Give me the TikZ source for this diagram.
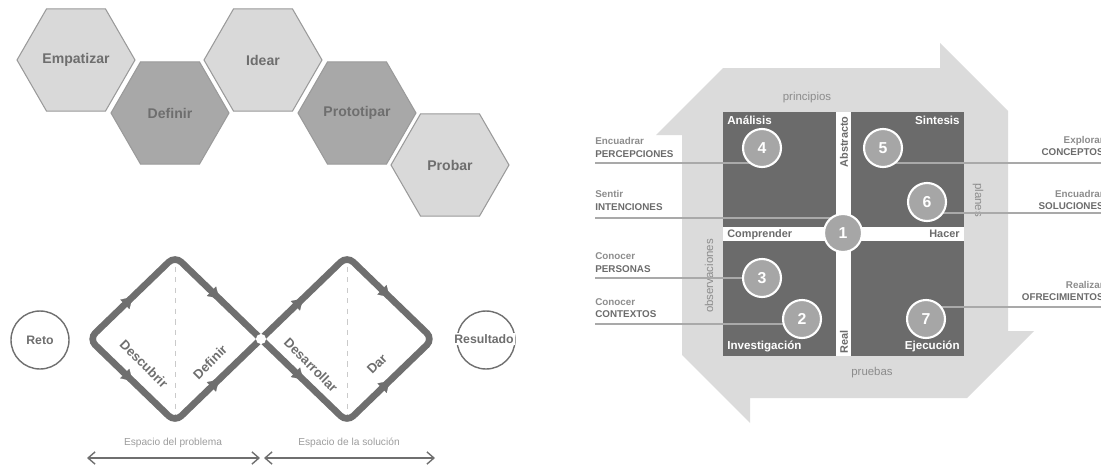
\documentclass[tikz,border=0pt]{standalone}
\usepackage{fontspec}
\setmainfont{Liberation Sans}
\usepackage{tikz}
\usetikzlibrary{shapes.geometric,arrows.meta,decorations.markings}
\definecolor{hexlight}{HTML}{D9D9D9}
\definecolor{hexdark}{HTML}{A8A8A8}
\definecolor{hexline}{HTML}{9A9A9A}
\definecolor{txtgray}{HTML}{6E6E6E}
\definecolor{flowgray}{HTML}{6F6F6F}
\definecolor{dashgray}{HTML}{CACACA}
\definecolor{softgray}{HTML}{9C9C9C}
\definecolor{bandgray}{HTML}{DBDBDB}
\definecolor{quadgray}{HTML}{6B6B6B}
\definecolor{numgray}{HTML}{A6A6A6}
\definecolor{leadgray}{HTML}{A9A9A9}
\definecolor{labgray}{HTML}{8C8C8C}
\newcommand{\fsz}[1]{\fontsize{#1}{#1}\selectfont}

\begin{document}
\begin{tikzpicture}[x=0.02cm, y=-0.02cm,
    >={Triangle[length=6pt,width=7.5pt,line width=0.1pt]},
    hexa/.style={regular polygon, regular polygon sides=6, minimum size=2.36cm, inner sep=0pt,
        draw=hexline, line width=0.6pt, text=txtgray, font=\fsz{8}\bfseries},
    ring/.style={circle, draw=flowgray, line width=0.8pt, minimum size=1.16cm, inner sep=0pt},
    phase/.style={text=txtgray, font=\fsz{7.5}\bfseries, inner sep=0pt},
    guide/.style={draw=dashgray, line width=0.5pt, dashed},
    loopa/.style={color=flowgray, line width=3.8pt, rounded corners=5pt, postaction={decorate},
        decoration={markings,
            mark=at position 0.125 with {\arrowreversed{>}},
            mark=at position 0.375 with {\arrowreversed{>}},
            mark=at position 0.625 with {\arrow{>}},
            mark=at position 0.875 with {\arrow{>}}}},
    loopb/.style={color=flowgray, line width=3.8pt, rounded corners=5pt, postaction={decorate},
        decoration={markings,
            mark=at position 0.125 with {\arrow{>}},
            mark=at position 0.375 with {\arrow{>}},
            mark=at position 0.625 with {\arrowreversed{>}},
            mark=at position 0.875 with {\arrowreversed{>}}}},
    space/.style={text=softgray, font=\fsz{5.8}, inner sep=1pt},
    span/.style={draw=flowgray, line width=0.8pt, {Straight Barb[length=4pt,width=7pt]}-{Straight Barb[length=4pt,width=7pt]}},
    quadlabel/.style={text=white, font=\fsz{6.6}\bfseries, inner sep=0pt},
    axislabel/.style={text=quadgray, font=\fsz{6.2}\bfseries, inner sep=0pt},
    sidelabel/.style={text=labgray, font=\fsz{6.5}, inner sep=0pt},
    verb/.style={text=labgray, font=\fsz{5.6}\bfseries, inner sep=0pt},
    noun/.style={text=quadgray, font=\fsz{5.6}\bfseries, inner sep=0pt},
    leader/.style={draw=leadgray, line width=0.7pt},
    num/.style={circle, fill=numgray, draw=white, line width=1.2pt, minimum size=0.76cm, inner sep=0pt,
        text=white, font=\fsz{9}\bfseries}]
    \useasboundingbox (0,0) rectangle (1101,470);

    % Hexagon phases
    \foreach \hname/\hx/\hy/\hshade/\htext in {emp/76/60/hexlight/Empatizar, def/170/113/hexdark/Definir,
        ide/263/60/hexlight/Idear, pro/357/113/hexdark/Prototipar, pru/450/165/hexlight/Probar}
        \node[hexa, fill=\hshade] (\hname) at (\hx,\hy) {\htext};

    % Double diamond
    \coordinate (L1) at (89,339);
    \coordinate (T1) at (175,256);
    \coordinate (M) at (261,339);
    \coordinate (B1) at (175,422);
    \coordinate (T2) at (347,256);
    \coordinate (R2) at (433,339);
    \coordinate (B2) at (347,422);
    \draw[guide] (T1) -- (B1);
    \draw[guide] (T2) -- (B2);
    \draw[loopa] (M) -- (T1) -- (L1) -- (B1) -- (M);
    \draw[loopb] (M) -- (T2) -- (R2) -- (B2) -- (M);
    \fill[white] (M) circle[radius=2.9pt];

    \node[phase, rotate=-45] (descubrir) at (144,364) {Descubrir};
    \node[phase, rotate=45] (definir) at (210,362) {Definir};
    \node[phase, rotate=-45] (desarrollar) at (311,365) {Desarrollar};
    \node[phase, rotate=45] (dar) at (377,364) {Dar};

    % Start and end
    \node[ring, phase, font=\fsz{7}\bfseries] (reto) at (40,340) {Reto};
    \node[ring] (res) at (486,340) {};
    \node[phase, font=\fsz{7}\bfseries, fill=white, inner sep=1pt] (restxt) at (484,339) {Resultado};

    % Problem and solution spaces
    \node[space] (prob) at (173,443) {Espacio del problema};
    \node[space] (sol) at (349,443) {Espacio de la soluci\'on};
    \coordinate (s0) at (87,458);
    \coordinate (s1) at (260,458);
    \coordinate (s1b) at (264,458);
    \coordinate (s2) at (435,458);
    \draw[span] (s0) -- (s1);
    \draw[span] (s1b) -- (s2);

    % Cycle band
    \fill[bandgray] (723,68) -- (940,68) -- (940,43) -- (1008,111) -- (1008,331) -- (1034,331)
        -- (967,398) -- (750,398) -- (750,423) -- (682,355) -- (682,135) -- (656,135) -- cycle;
    \fill[white] (723,112) rectangle (964,356);
    \foreach \qx/\qy in {723/112, 851/112, 723/241, 851/241}
        \fill[quadgray] (\qx,\qy) rectangle ++(113,115);

    % Quadrant labels
    \node[quadlabel, anchor=base west] (ana) at (727,124) {An\'alisis};
    \node[quadlabel, anchor=base east] (sin) at (960,124) {Sintesis};
    \node[quadlabel, anchor=base west] (inv) at (727,349) {Investigaci\'on};
    \node[quadlabel, anchor=base east] (eje) at (960,349) {Ejecuci\'on};
    \node[axislabel, anchor=base west] (comp) at (727,237) {Comprender};
    \node[axislabel, anchor=base east] (hac) at (960,237) {Hacer};
    \node[axislabel, rotate=90] (abs) at (844,142) {Abstracto};
    \node[axislabel, rotate=90] (real) at (844,342) {Real};

    % Band labels
    \node[sidelabel] (prin) at (807,98) {principios};
    \node[sidelabel, rotate=-90] (plan) at (978,200) {planes};
    \node[sidelabel, rotate=90] (obs) at (709,276) {observaciones};
    \node[sidelabel] (prue) at (872,373) {pruebas};

    % Left modes
    \node[verb, anchor=base west] (v4) at (595,144) {Encuadrar};
    \node[noun, anchor=base west] (n4) at (595,157) {PERCEPCIONES};
    \node[verb, anchor=base west] (v1) at (595,197) {Sentir};
    \node[noun, anchor=base west] (n1) at (595,210) {INTENCIONES};
    \node[verb, anchor=base west] (v3) at (595,259) {Conocer};
    \node[noun, anchor=base west] (n3) at (595,272) {PERSONAS};
    \node[verb, anchor=base west] (v2) at (595,305) {Conocer};
    \node[noun, anchor=base west] (n2) at (595,317) {CONTEXTOS};

    % Right modes
    \node[verb, anchor=base east] (v5) at (1104,143) {Explorar};
    \node[noun, anchor=base east] (n5) at (1104,155) {CONCEPTOS};
    \node[verb, anchor=base east] (v6) at (1104,197) {Encuadrar};
    \node[noun, anchor=base east] (n6) at (1104,209) {SOLUCIONES};
    \node[verb, anchor=base east] (v7) at (1104,288) {Realizar};
    \node[noun, anchor=base east] (n7) at (1104,300) {OFRECIMIENTOS};

    % Mode positions
    \foreach \n/\px/\py in {1/843/233, 2/802/319, 3/762/278, 4/762/148, 5/883/148, 6/927/202, 7/926/319}
        \coordinate (p\n) at (\px,\py);

    % Leader lines
    \foreach \n/\ly in {4/163, 1/218, 3/278, 2/324}
    {
        \coordinate (l\n) at (595,\ly);
        \draw[leader] (l\n) -- (l\n -| p\n);
    }
    \foreach \n/\ly in {5/163, 6/213, 7/307}
    {
        \coordinate (r\n) at (1101,\ly);
        \draw[leader] (r\n -| p\n) -- (r\n);
    }

    % Mode circles
    \foreach \n in {1,...,7}
        \node[num] (c\n) at (p\n) {\n};
\end{tikzpicture}
\end{document}
